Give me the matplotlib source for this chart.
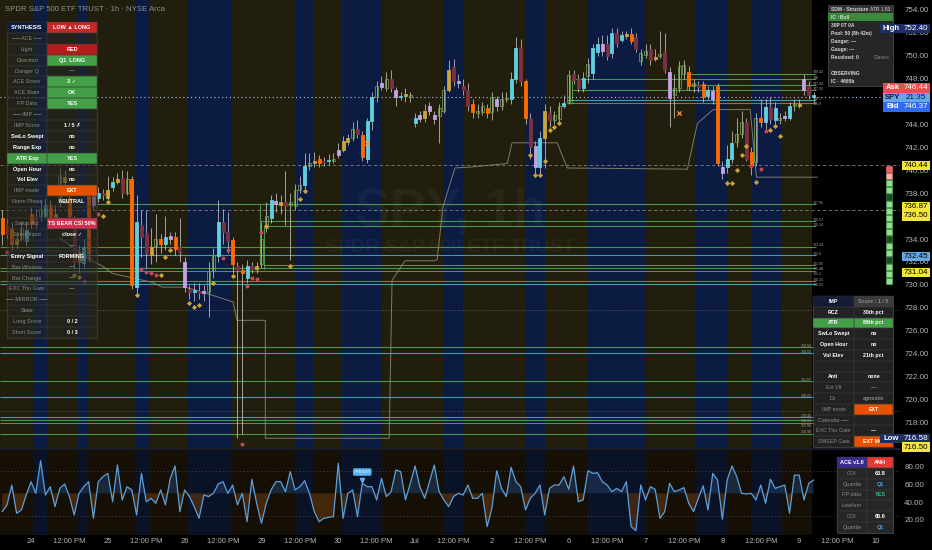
import numpy as np
import matplotlib
matplotlib.use("Agg")
import matplotlib.pyplot as plt
from matplotlib.patches import Rectangle

plt.rcParams['font.family'] = ['Liberation Sans', 'DejaVu Sans']

W, H = 932, 550

# ---------------- data ----------------
opens = [735.8,734.4,735.0,733.6,734.0,733.8,736.2,735.3,736.0,736.0,
         737.0,735.6,737.2,739.4,737.6,735.4,732.0,731.9,737.8,737.0,
         737.6,738.0,737.6,738.5,739.0,739.3,738.0,739.2,729.8,735.2,
         734.5,732.6,733.4,734.0,733.6,734.0,734.2,733.3,732.0,729.6,
         729.4,729.5,729.3,729.4,731.2,732.5,735.5,734.6,733.9,731.6,
         731.3,730.6,731.6,731.4,731.8,735.0,735.8,737.1,737.2,737.2,
         737.0,736.9,738.3,738.7,740.4,740.6,741.0,740.7,740.8,740.8,
         741.3,741.8,742.5,742.8,743.6,743.1,741.0,744.3,746.4,747.3,
         747.2,748.0,747.0,746.4,746.5,746.6,744.1,744.5,744.6,745.2,
         744.8,744.7,745.2,747.0,749.0,747.8,747.4,747.0,745.8,745.0,
         745.1,745.4,745.1,746.2,745.6,746.2,746.2,748.0,750.8,747.8,
         744.6,742.1,740.3,742.8,745.0,744.4,744.5,745.6,746.0,748.4,
         748.0,747.2,748.2,748.5,750.3,751.0,751.0,750.2,752.0,751.4,
         751.7,751.9,751.6,749.5,750.1,750.6,749.7,750.0,750.3,748.6,
         746.6,747.2,749.2,748.6,747.4,747.4,747.5,746.5,746.9,747.4,
         740.3,740.3,741.0,742.5,743.2,744.2,741.6,740.7,744.6,744.2,
         745.5,744.4,744.4,744.6,744.6,745.8,745.6,748.0,747.4,746.6]
highs = [736.5,735.8,735.5,734.6,735.6,735.6,736.8,736.6,737.2,737.6,
         737.4,737.0,740.2,740.0,738.2,736.0,733.5,734.0,738.6,738.5,
         738.5,738.4,739.5,739.4,739.8,740.0,739.9,739.5,737.8,736.5,
         736.5,735.0,736.2,734.4,736.0,734.6,734.6,735.8,732.4,730.0,
         730.2,730.2,730.0,732.0,733.2,737.4,736.6,736.4,734.2,732.0,
         731.8,732.2,732.0,732.0,735.5,737.2,737.8,738.0,737.8,739.9,
         738.0,738.8,739.5,741.5,741.5,741.6,741.3,741.2,741.4,741.5,
         742.4,743.0,743.2,744.2,744.4,743.4,744.6,746.8,747.8,748.2,
         748.6,748.8,747.3,746.8,747.2,746.8,745.0,745.2,745.8,746.0,
         745.2,745.8,747.4,749.6,749.7,748.4,748.0,747.6,746.2,745.8,
         746.0,745.8,746.8,746.5,746.8,746.8,748.6,751.6,751.5,748.0,
         745.0,742.6,743.4,745.8,745.6,745.2,746.0,746.6,748.8,748.8,
         748.4,748.6,749.8,751.0,751.6,751.8,751.8,752.4,752.4,752.2,
         752.2,752.4,752.0,750.6,751.0,751.0,750.6,752.2,752.0,749.0,
         748.4,749.5,749.6,749.1,748.0,747.8,747.8,747.4,747.4,747.6,
         740.8,742.2,743.4,744.6,745.2,744.6,742.0,745.0,746.2,746.2,
         746.4,746.0,745.0,745.2,746.0,746.2,746.2,748.4,747.8,746.8]
lows = [733.5,734.0,733.0,733.2,733.8,733.4,735.0,735.0,735.6,735.8,
        735.2,735.2,736.8,738.6,735.5,731.4,731.0,731.5,732.0,736.5,
        737.2,737.4,737.4,738.2,738.8,737.6,737.8,729.6,729.2,732.4,
        731.5,731.8,732.0,732.8,733.0,733.6,732.6,732.0,729.4,728.8,
        728.6,728.8,728.6,727.2,730.6,732.0,733.6,732.8,731.0,716.6,
        717.0,730.2,731.0,731.0,731.5,734.6,735.4,736.4,736.2,735.2,
        732.2,736.5,738.0,738.4,740.0,740.3,740.3,740.4,740.5,740.6,
        741.1,741.6,742.2,742.6,742.8,740.8,740.6,743.5,746.0,747.0,
        746.9,746.8,745.6,746.1,746.0,746.0,743.8,744.2,744.2,744.8,
        744.0,742.4,745.0,746.8,747.4,747.2,746.6,745.2,744.6,744.6,
        744.8,744.6,744.4,745.2,745.3,746.0,745.8,747.6,747.4,744.0,
        741.0,739.8,739.8,740.2,743.8,744.0,744.2,745.4,745.8,747.5,
        746.8,746.8,747.6,748.0,750.0,750.0,749.6,749.8,750.8,751.2,
        751.5,751.0,750.3,749.2,749.8,749.2,749.5,749.8,748.5,743.8,
        744.6,746.8,748.0,747.0,746.8,746.8,746.0,746.2,745.8,740.4,
        739.2,739.8,740.6,742.0,742.8,740.8,739.6,740.4,743.8,743.6,
        744.0,744.0,744.0,744.3,744.4,745.2,745.4,746.6,746.2,746.0]
closes = [734.4,735.2,733.6,734.0,735.0,734.8,735.3,736.0,736.6,737.0,
          735.6,736.2,739.6,739.0,736.0,732.0,732.8,733.3,732.8,738.0,
          738.0,737.8,738.3,739.0,739.2,738.0,739.2,730.0,735.5,734.2,
          732.8,733.3,734.0,733.6,734.2,734.3,733.1,732.9,729.8,729.4,
          729.5,729.3,729.5,731.2,732.6,735.5,734.6,733.8,731.8,731.3,
          731.0,731.6,731.4,731.6,734.0,736.0,737.4,737.3,737.0,736.9,
          737.2,738.3,738.7,740.4,740.6,740.8,740.6,740.8,740.9,741.0,
          741.8,742.6,742.8,743.6,743.2,741.2,744.3,746.4,747.4,747.6,
          748.0,747.2,746.4,746.5,746.6,746.4,744.6,744.8,745.2,745.6,
          744.5,745.4,747.0,748.8,747.8,747.6,747.0,745.6,745.1,745.2,
          745.6,745.0,746.4,745.6,746.2,746.3,748.0,750.7,747.8,744.6,
          742.0,740.3,742.8,745.2,744.4,744.8,745.6,745.9,748.3,747.9,
          747.2,748.1,749.3,750.7,751.0,750.4,750.0,752.0,751.1,751.8,
          751.9,751.3,750.6,750.2,750.4,749.6,749.9,750.1,748.8,746.3,
          747.2,749.1,748.4,747.4,747.6,747.3,746.4,747.0,746.2,740.6,
          739.8,741.0,742.4,743.2,744.2,741.0,740.5,744.6,744.2,745.5,
          744.5,745.4,744.6,744.7,745.6,745.6,745.8,747.0,746.6,746.44]
candle_kinds = "".join([
    "omoygcomgc", "oygyomycov", "cmycymgocm", "mygocvomvm", "cmvggcmmom",
    "ocmyggcvym", "gggcgyomcg", "vyygmoccgv", "gmvcygcvyv", "vggymvmmog",
    "gogvggccmo", "mvcymggcgm", "mcgccvmcmc", "yomggmygmv", "gggogmocvo",
    "vccggmogoc", "mcgvcgyvmc"])

osc = [29.4,36.9,59.4,27.5,31.3,48.1,63.1,50.0,86.7,48.1,
       57.5,35.0,55.6,60.5,46.3,25.6,50.0,57.5,63.1,21.9,
       63.1,68.8,72.5,40.6,81.9,42.5,57.5,53.8,25.6,72.5,
       40.6,44.4,38.8,53.8,36.9,66.9,80.8,29.4,53.8,46.3,
       35.0,21.9,48.1,46.3,50.0,60.5,63.1,50.0,59.4,36.9,
       50.0,18.1,65.8,38.8,16.3,38.8,53.8,63.1,63.1,51.9,
       74.4,53.8,57.5,64.3,50.0,29.4,18.1,21.9,23.0,23.8,
       83.8,21.9,50.0,53.8,23.8,61.3,57.5,57.5,42.5,66.9,
       46.3,51.9,76.3,74.4,42.5,61.3,80.8,57.5,44.4,63.1,
       81.9,51.9,42.5,35.0,46.3,50.0,48.1,59.4,
       44.4,44.4,50.0,12.5,33.1,75.5,55.6,46.3,79.3,63.1,
       57.5,31.3,44.4,50.0,59.4,25.6,55.6,59.4,59.4,68.8,
       54.5,80.8,40.6,42.5,75.5,72.5,73.3,63.1,59.4,51.9,
       55.6,51.9,63.1,12.5,8.0,59.4,42.5,57.5,54.5,21.9,
       29.4,61.3,51.9,53.8,56.4,38.8,29.4,44.4,58.6,31.3,
       72.5,65.0,20.8,65.0,80.8,68.8,50.0,49.3,50.0,42.5,
       59.4,38.8,65.8,55.6,57.5,59.4,27.5,70.6,70.6,42.5,
       61.3,65.0]

blue_bands = [(6.6, 9.3), (15.8, 17.7), (27.7, 30.8), (38.7, 47.9), (61.0, 64.8),
              (70.8, 79.1), (91.8, 96.0), (108.9, 113.1), (122.0, 134.1),
              (144.3, 151.2), (156.0, 162.5)]
session_end = 168.7

level_prices = [748.42, 748.00, 747.43, 747.02, 746.10, 745.90, 737.05, 735.57, 735.14,
                733.34, 732.60, 731.69, 731.48, 731.20, 730.31, 730.03, 724.56, 724.03,
                721.57, 720.21, 718.45, 718.19, 717.95, 716.99]
level_start = [143, 119, 143, 119, 118, 118, 20, 54, 55, 0, 0, 55, 0, 0, 0, 0, 0, 0,
               0, 0, 0, 0, 0, 0]
level_kind = "ggggcgggggcggggcgcgccggg"
level_links = [(54, 731.7, 737.0), (55, 731.4, 735.1), (119, 745.9, 748.0), (143, 747.0, 748.5)]
dashed_levels = [740.44, 736.50]
dotted_levels = [727.8, 719.0]
last_price = 746.44

trail_x = [12.0, 18.3, 21.0, 22.9, 31.4, 33.3, 38.1, 43.7, 48.1, 48.9, 54.8, 54.8, 80.6,
           81.2, 83.9, 90.0, 90.6, 91.8, 94.3, 98.1, 105.2, 106.2, 115.6, 117.7, 142.7,
           144.8, 148.1, 155.8, 157.1, 169.8]
trail_y = [734.1, 732.2, 731.6, 731.0, 730.2, 729.8, 729.8, 729.1, 728.5, 726.9, 726.9,
           716.6, 716.6, 730.4, 732.1, 732.1, 732.2, 736.8, 740.2, 740.3, 740.6, 742.4,
           742.4, 740.2, 740.1, 744.1, 745.3, 745.3, 739.4, 739.4]

gold_bars = [3, 13, 15, 16, 21, 22, 28, 33, 34, 35, 39, 40, 41, 44, 48, 55, 60, 62, 63,
             110, 111, 112, 113, 114, 115, 116, 151, 152, 153, 154, 155, 157, 160, 161, 162]
gold_prices = [733.9, 737.3, 730.9, 730.7, 736.0, 737.2, 729.1, 730.9, 732.4, 733.0,
               728.4, 728.1, 728.2, 730.2, 730.8, 735.1, 731.6, 737.5, 738.2,
               741.3, 739.6, 739.6, 740.8, 743.5, 743.8, 744.1,
               738.9, 738.9, 740.0, 741.3, 742.1, 739.0, 743.5, 743.9, 743.0]
red_bars = [1, 17, 18, 20, 29, 30, 31, 32, 46, 47, 50, 51, 52, 53, 54, 156, 158, 159]
red_prices = [732.9, 730.3, 732.3, 736.2, 731.4, 731.1, 731.0, 730.9, 732.3, 733.0,
              716.1, 729.9, 730.6, 730.5, 734.6, 740.4, 740.1, 743.4]
cross_bars = [76, 141]
cross_prices = [742.4, 745.0]

price_ticks = [718, 720, 722, 724, 726, 728, 730, 732, 734, 736, 738, 740, 742, 744,
               748, 750, 752, 754]
osc_ticks = [20, 40, 60, 80]
day_labels = ["24", "25", "26", "29", "30", "Jul", "2", "6", "7", "8", "9", "10"]
noon_label = "12:00 PM"
first_day_bar, bars_per_day = 6, 16

syn_labels = ["SYNTHESIS", "── ACE ──", "Light", "Direction", "Danger Q", "ACE Score",
              "ACE State", "FP Data", "── IMP ──", "IMP Score", "SwLo Swept", "Range Exp",
              "ATR Exp", "Open Hour", "Vol Elev", "IMP mode", "Norm Phase", "", "Setup Act",
              "Entry Input", "", "Entry Signal", "Bar Window", "Bar Change", "EXC Thu Gate",
              "── MIRROR ──", "State", "Long Score", "Short Score"]
syn_values = ["LOW ▲ LONG", "", "RED", "Q1  LONG", "—", "3 ✓", "OK", "YES", "", "1 / 5 ✗",
              "no", "no", "YES", "no", "no", "EXT", "NEUTRAL", "", "TS BEAR CSI 50%",
              "close ✓", "—", "FORMING", "—", "—", "—", "", "", "0 / 2", "0 / 3"]
syn_lbg = {0: '#0f1d3d', 12: '#43a047'}
syn_vbg = {0: '#c62828', 2: '#b71c1c', 3: '#43a047', 5: '#43a047', 6: '#43a047',
           7: '#43a047', 12: '#43a047', 15: '#e65100', 18: '#d32f4f'}
syn_bright = {0, 10, 11, 12, 13, 14, 21}

sdm_rows = ["SDM - Structure", "IC ↑Bull", "30P 0T 0A", "Pool: 50 (8h 42m)", "Danger: —",
            "Gauge: —", "Resolved: 0", "", "OBSERVING", "IC · 4665b"]
sdm_right = {0: "ATR 1.83", 6: "Classic"}

imp_labels = ["IMP", "RCZ", "ATR", "SwLo Swept", "Open Hour", "Vol Elev", "", "Anti",
              "Ext Vlt", "Dir", "IMP mode", "Calendar ──", "EXC Thu Gate", "SWEEP Gate"]
imp_values = ["Score : 1 / 5", "30th pct", "88th pct", "no", "no", "21th pct", "", "none",
              "—", "agnostic", "EXT", "", "—", "EXT MO"]
imp_lbg = {0: '#151b36', 2: '#43a047'}
imp_vbg = {0: '#3b3b3b', 2: '#43a047', 10: '#e65100', 13: '#e65100'}

ace_labels = ["ACE v1.0", "COI", "Quartile", "FP data", "LastAnn", "COI", "Quartile"]
ace_values = ["ANH", "63.8", "Q1", "YES", "", "65.6", "Q1"]
ace_vcol = ['white', 'white', '#4aa3f0', '#2bbf8f', 'white', 'white', '#4aa3f0']

sq_kinds = "rpLLDLLLLLDLLDLLL"

# ---------------- figure ----------------
fig = plt.figure(figsize=(W / 100, H / 100), dpi=100, facecolor='#000000')

def fx(x): return x / W
def fy(y): return 1 - y / H

ax = fig.add_axes([0, fy(448), fx(900), 448 / H])
ax2 = fig.add_axes([0, fy(535), fx(900), 85 / H])
for a in (ax, ax2):
    a.set_facecolor('#000000')
    for s in a.spines.values():
        s.set_visible(False)
    a.set_xlim(-0.46, 187.0)
ax.set_ylim(715.75, 754.87)
ax2.set_ylim(3.1, 98.8)

OLIVE, BLUE = '#211e0d', '#0b1b42'
ax.axvspan(-0.46, session_end, color=OLIVE, lw=0, zorder=0)
for b0, b1 in blue_bands:
    ax.axvspan(b0, b1, color=BLUE, lw=0, zorder=0.1)
ax2.axvspan(-0.46, session_end, color='#150f06', lw=0, zorder=0)
for b0, b1 in blue_bands:
    ax2.axvspan(b0, b1, color='#0a1228', lw=0, zorder=0.1)

# watermark
ax.text(fx(450), fy(212), "SPY, 1h", transform=fig.transFigure, fontsize=38,
        color='white', alpha=0.04, ha='center', va='center', fontweight='bold', zorder=0.5)
ax.text(fx(450), fy(247), "SPDR S&P 500 ETF TRUST", transform=fig.transFigure, fontsize=14,
        color='white', alpha=0.04, ha='center', va='center', fontweight='bold', zorder=0.5)

# levels
label_y = []
prev = None
for p in level_prices:
    y = p + 0.12
    if prev is not None and prev - y < 0.45:
        y = prev - 0.45
    label_y.append(y)
    prev = y
for p, s, k, ly in zip(level_prices, level_start, level_kind, label_y):
    col = '#5bb35e' if k == 'g' else '#52bccb'
    ax.hlines(p, s - 0.4, session_end + 0.8, colors=col, lw=0.8, alpha=0.8, zorder=1)
    right_side = p > 728.5
    ax.text(session_end + (0.2 if right_side else -0.1), ly, f"{p:g}", fontsize=2.6,
            color='#a8a8a8', ha='left' if right_side else 'right', va='center', zorder=1.2)
for b, p0, p1 in level_links:
    ax.vlines(b - 0.4, p0, p1, colors='#5bb35e', lw=0.8, alpha=0.8, zorder=1)
for p in dashed_levels:
    ax.axhline(p, color='#9a9a9a', lw=0.6, ls=(0, (4, 3)), alpha=0.8, zorder=1.1)
for p in dotted_levels:
    ax.axhline(p, color='#6a6a6a', lw=0.6, ls=(0, (1, 2)), zorder=1.1)
ax.axhline(last_price, color='#a9c8e8', lw=0.8, ls=(0, (1, 2.5)), zorder=1.1)

# trailing line
ax.plot(trail_x, trail_y, color='#8c8c7c', lw=0.7, alpha=0.85, zorder=1.5)

# candles
idx = np.arange(len(closes))
o = np.array(opens); c = np.array(closes)
colmap = {'c': '#5fd0de', 'o': '#ff6a00', 'm': '#7d3042', 'v': '#c3a4e2',
          'g': '#6e9b41', 'y': '#c9a53a'}
ax.vlines(idx, lows, highs, colors='#c4c4c4', lw=0.55, zorder=2.5)
bottoms = np.minimum(o, c)
heights = np.maximum(np.abs(c - o), 0.12)
faces = ['none' if k == 'g' else colmap[k] for k in candle_kinds]
edges = [colmap[k] for k in candle_kinds]
ax.bar(idx, heights, bottom=bottoms, width=0.62, color=faces, edgecolor=edges,
       linewidth=0.6, zorder=3)

ax.scatter(gold_bars, gold_prices, marker='D', s=7, color='#c9a23a', zorder=4, lw=0)
ax.scatter(red_bars, red_prices, marker='o', s=8, color='#c4475c', zorder=4, lw=0)
ax.scatter(cross_bars, cross_prices, marker='x', s=10, color='#ff8c2a', zorder=4, lw=0.9)

ax.yaxis.tick_right()
ax.set_yticks(price_ticks)
ax.set_yticklabels([f"{t:.2f}" for t in price_ticks])
ax.tick_params(axis='y', length=0, pad=3, labelsize=5.8, colors='#b2b5be')
ax.set_xticks([])

# oscillator
ov = np.array(osc)
ox = np.arange(len(osc))
ax2.fill_between(ox, ov, 50, where=ov >= 50, interpolate=True, color='#203a5c', alpha=0.6, lw=0, zorder=1)
ax2.fill_between(ox, ov, 50, where=ov < 50, interpolate=True, color='#6b3a0c', alpha=0.55, lw=0, zorder=1)
ax2.axhline(75, color='#4a4a4a', lw=0.5, ls=(0, (2, 3)), zorder=1.2)
ax2.axhline(25, color='#4a4a4a', lw=0.5, ls=(0, (2, 3)), zorder=1.2)
ax2.plot(ox, ov, color='#5d9fd8', lw=0.9, zorder=2)
ax2.text(75, 74, "FRI EXT", fontsize=2.8, color='white', ha='center', va='center', zorder=5,
         bbox=dict(boxstyle='round,pad=0.45', fc='#5cb3f2', ec='none'))
ax2.plot([75], [65.5], marker='v', color='#5cb3f2', ms=3, zorder=5)
ax2.yaxis.tick_right()
ax2.set_yticks(osc_ticks)
ax2.set_yticklabels([f"{t:.2f}" for t in osc_ticks])
ax2.tick_params(axis='y', length=0, pad=3, labelsize=5.8, colors='#b2b5be')
tpos, tlab = [], []
for k, d in enumerate(day_labels):
    tpos.append(first_day_bar + bars_per_day * k); tlab.append(d)
    if k < len(day_labels) - 1:
        tpos.append(first_day_bar + bars_per_day * k + bars_per_day // 2); tlab.append(noon_label)
ax2.set_xticks(tpos)
ax2.set_xticklabels(tlab)
ax2.tick_params(axis='x', length=0, pad=2, labelsize=5.5, colors='#b2b5be')

# ---------------- overlays ----------------
def rect(x0, y0, x1, y1, fc, ec='none', lw=0.0, alpha=1.0, z=10):
    fig.add_artist(Rectangle((fx(x0), fy(y1)), (x1 - x0) / W, (y1 - y0) / H,
                             transform=fig.transFigure, facecolor=fc, edgecolor=ec,
                             linewidth=lw, alpha=alpha, zorder=z))

def txt(x, y, s, size, color, ha='center', weight='normal', z=12):
    fig.text(fx(x), fy(y), s, fontsize=size, color=color, ha=ha, va='center',
             fontweight=weight, zorder=z)

rect(0, 448, 900, 450, '#1a1d26', z=9)
txt(5, 9.5, "SPDR S&P 500 ETF TRUST · 1h · NYSE Arca", 5.6, '#8f8f8f', ha='left')

# left synthesis table
x0, xm, x1, top = 7, 47, 97, 22
rh = (338 - top) / len(syn_labels)
rect(x0, top, x1, 338, '#262626', ec='#555555', lw=0.5, alpha=0.55, z=10)
for r, (lab, val) in enumerate(zip(syn_labels, syn_values)):
    y0 = top + r * rh
    yc = y0 + rh / 2
    if r in syn_lbg:
        rect(x0, y0, xm, y0 + rh, syn_lbg[r], z=10.5)
    if r in syn_vbg:
        rect(xm, y0, x1, y0 + rh, syn_vbg[r], z=10.5)
    rect(x0, y0, xm, y0 + rh, 'none', ec='#3a3a3a', lw=0.3, z=10.6)
    rect(xm, y0, x1, y0 + rh, 'none', ec='#3a3a3a', lw=0.3, z=10.6)
    bright = r in syn_bright
    txt((x0 + xm) / 2, yc, lab, 4.0, 'white' if bright else '#8a8a8a',
        weight='bold' if bright else 'normal')
    vcol = '#9a9a9a' if val == '—' else 'white'
    txt((xm + x1) / 2, yc, val, 4.0, vcol, weight='bold')

# SDM structure table
sx0, sx1, sy0, sy1 = 828, 893, 5, 86
srh = (sy1 - sy0) / len(sdm_rows)
rect(sx0, sy0, sx1, sy1, '#2a2a2a', ec='#555555', lw=0.5, alpha=0.92, z=10)
rect(sx0, sy0, sx1, sy0 + srh, '#333333', z=10.5)
rect(sx0, sy0 + srh, sx1, sy0 + 2 * srh, '#3a8a3c', z=10.5)
for r, s in enumerate(sdm_rows):
    yc = sy0 + r * srh + srh / 2
    txt(sx0 + 3, yc, s, 3.5, '#d8d8d8', ha='left', weight='bold')
    if r in sdm_right:
        txt(sx1 - 3, yc, sdm_right[r], 3.5, '#d8d8d8' if r == 0 else '#8a8a8a', ha='right')

# IMP table
ix0, ixm, ix1, iy0, iy1 = 813, 854, 893, 296, 447
irh = (iy1 - iy0) / len(imp_labels)
rect(ix0, iy0, ix1, iy1, '#262626', ec='#555555', lw=0.5, alpha=0.9, z=10)
for r, (lab, val) in enumerate(zip(imp_labels, imp_values)):
    y0 = iy0 + r * irh
    yc = y0 + irh / 2
    if r in imp_lbg:
        rect(ix0, y0, ixm, y0 + irh, imp_lbg[r], z=10.5)
    if r in imp_vbg:
        rect(ixm, y0, ix1, y0 + irh, imp_vbg[r], z=10.5)
    rect(ix0, y0, ixm, y0 + irh, 'none', ec='#3a3a3a', lw=0.3, z=10.6)
    rect(ixm, y0, ix1, y0 + irh, 'none', ec='#3a3a3a', lw=0.3, z=10.6)
    dim = r >= 8
    txt((ix0 + ixm) / 2, yc, lab, 3.8, '#8a8a8a' if dim else 'white',
        weight='normal' if dim else 'bold')
    vcol = '#8a8a8a' if r in (0, 8, 9) else 'white'
    txt((ixm + ix1) / 2, yc, val, 3.8, vcol, weight='bold')

# ACE table
ax0, axm, ax1, ay0, ay1 = 837, 867, 893, 457, 533
arh = (ay1 - ay0) / len(ace_labels)
rect(ax0, ay0, ax1, ay1, '#2a2a2a', ec='#555555', lw=0.5, alpha=0.92, z=10)
rect(ax0, ay0, axm, ay0 + arh, '#3a2b8f', z=10.5)
rect(axm, ay0, ax1, ay0 + arh, '#e53935', z=10.5)
for r, (lab, val) in enumerate(zip(ace_labels, ace_values)):
    y0 = ay0 + r * arh
    yc = y0 + arh / 2
    rect(ax0, y0, axm, y0 + arh, 'none', ec='#3a3a3a', lw=0.3, z=10.6)
    rect(axm, y0, ax1, y0 + arh, 'none', ec='#3a3a3a', lw=0.3, z=10.6)
    txt((ax0 + axm) / 2, yc, lab, 4.0, 'white' if r == 0 else '#8a8a8a',
        weight='bold' if r == 0 else 'normal')
    txt((axm + ax1) / 2, yc, val, 4.0, ace_vcol[r], weight='bold')

# green squares column
sq_col = {'r': ('#e06666', '#e06666'), 'p': ('#f0b8b8', '#d07070'),
          'L': ('#9bd89b', '#4caf50'), 'D': ('#1f4a24', '#3d7a3f')}
for k, kind in enumerate(sq_kinds):
    yy = 166 + 7 * k
    fc, ec = sq_col[kind]
    rect(886, yy, 892, yy + 6, fc, ec=ec, lw=0.5, z=10)

# price boxes
def price_px(p):
    return H - ax.transData.transform((0, p))[1]

pboxes = [
    ("High", 752.40, 0, '#1f2f66', 'white'),
    ("Ask", 746.44, -8.6, '#ea4d4d', 'white'),
    ("SPY", 746.44, 0.9, '#64a6e6', '#0b1a3a'),
    ("Bid", 746.37, 9.6, '#2f6bef', 'white'),
    ("", 740.44, 0, '#f3e53a', 'black'),
    ("", 736.87, 0, '#f3e53a', 'black'),
    ("", 736.50, 5.6, '#f3e53a', 'black'),
    ("", 732.45, 0, '#64a6e6', 'black'),
    ("", 731.04, 0, '#f3e53a', 'black'),
    ("Low", 716.58, 0, '#1f2f66', 'white'),
    ("", 716.50, 7.6, '#f3e53a', 'black'),
]
box_values = ["752.40", "746.44", "21:35", "746.37", "740.44", "736.87", "736.50",
              "732.45", "731.04", "716.58", "716.50"]
for (lab, p, off, fc, tc), v in zip(pboxes, box_values):
    yc = price_px(p) + off
    if lab:
        lx0 = 880 if lab in ("High", "Low") else 883
        rect(lx0, yc - 4.6, 902, yc + 4.6, fc, z=13)
        txt((lx0 + 902) / 2, yc, lab, 5.6, tc, weight='bold', z=14)
    rect(902, yc - 4.6, 930, yc + 4.6, fc, z=13)
    txt(916, yc, v, 5.8, tc, z=14)

fig.savefig("out.png", dpi=100, facecolor='#000000')
